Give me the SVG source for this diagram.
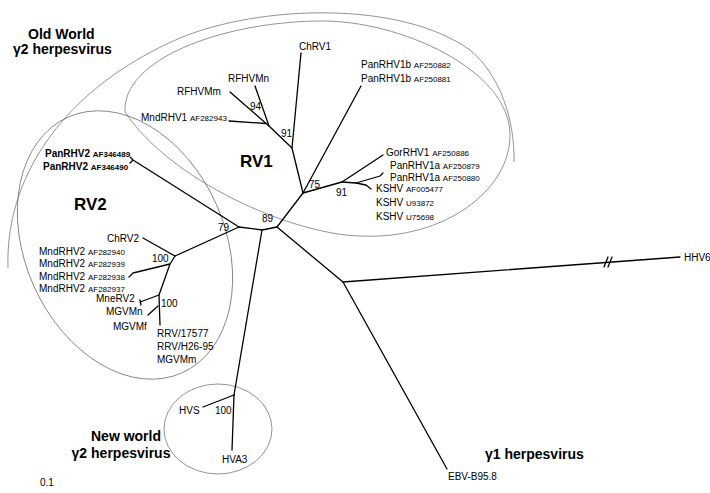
<svg xmlns="http://www.w3.org/2000/svg" width="710" height="493" viewBox="0 0 710 493">
<style>
.br{stroke:#000;stroke-width:1.3;fill:none;stroke-linecap:round;stroke-linejoin:round}
.el{stroke:#666;stroke-width:0.7;fill:none}
text{font-family:"Liberation Sans",Arial,sans-serif;font-size:10px;fill:#000}
.acc{font-size:8px}
.b{font-weight:bold}
.big{font-size:14px;font-weight:bold}
.rv{font-size:17px;font-weight:bold}
</style>
<rect width="710" height="493" fill="#fff"/>
<g id="groups">
<path id="oldworld-arc" class="el" d="M8,268 C5,180 60,90 180,38 C260,5 400,0 470,50 C500,75 515,120 514,162"/>
<path id="rv1-ellipse" class="el" d="M125,112 C122,60 220,22 320,21 C400,20 510,70 510,135 C510,190 445,240 360,236 C290,234 170,180 125,112 Z"/>
<ellipse id="rv2-ellipse" class="el" cx="125" cy="245" rx="140" ry="100" transform="rotate(66 125 245)"/>
<ellipse id="newworld-ellipse" class="el" cx="218" cy="429" rx="54" ry="45"/>
</g>
<g id="connectors">
<path class="br" d="M277,227 L303,193"/>
<path class="br" d="M277,227 L262,230 L239,227"/>
<path class="br" d="M262,230 L234,395"/>
<path class="br" d="M277,227 L343,282"/>
<path class="br" d="M343,282 L680,257"/>
<path class="br" d="M604,267 L608,257 M608,267 L612,257"/>
<path class="br" d="M343,282 L447,469"/>
<path class="br" d="M303,193 L292,148 L301,53"/>
<path class="br" d="M292,148 L269,126 L255,86"/>
<path class="br" d="M269,126 L230,92"/>
<path class="br" d="M266,123.5 L229,121"/>
<path class="br" d="M303,193 L361,86"/>
<path class="br" d="M303,193 L342,182"/>
<path class="br" d="M342,182 L383,155"/>
<path class="br" d="M342,182 L356,183 L380,176 L383,173"/>
<path class="br" d="M356,183 L366,185 L371,189"/>
<path class="br" d="M239,227 L133,160 M133,160 L130,157 M133,160 L130,163"/>
<path class="br" d="M239,227 L175,256 L143,238"/>
<path class="br" d="M175,256 L170,264 L133,273 L129,277"/>
<path class="br" d="M170,264 L159,295 L160,325"/>
<path class="br" d="M159,295 L140,302 M140,300 L141,305"/>
<path class="br" d="M158,306 L148,315"/>
<path class="br" d="M234,395 L203,407"/>
<path class="br" d="M234,395 L232,450"/>
</g>
<g id="label-oldworld"><text class="big" x="28" y="39">Old World</text><text class="big" x="13" y="54">γ2 herpesvirus</text></g>
<g id="label-rv1"><text class="rv" x="240" y="167">RV1</text></g>
<g id="label-rv2"><text class="rv" x="74" y="210">RV2</text></g>
<g id="label-newworld"><text class="big" x="126" y="441" text-anchor="middle">New world</text><text class="big" x="121" y="458" text-anchor="middle">γ2 herpesvirus</text></g>
<g id="label-g1"><text class="big" x="485" y="459">γ1 herpesvirus</text></g>
<g id="scale"><text x="40" y="486">0.1</text></g>
<g id="leaf-ChRV1"><text x="299" y="50">ChRV1</text></g>
<g id="leaf-PanRHV1b"><text x="361" y="68">PanRHV1b <tspan class="acc">AF250882</tspan></text><text x="361" y="82">PanRHV1b <tspan class="acc">AF250881</tspan></text></g>
<g id="leaf-RFHVMn"><text x="228" y="82">RFHVMn</text></g>
<g id="leaf-RFHVMm"><text x="177" y="95">RFHVMm</text></g>
<g id="leaf-MndRHV1"><text x="141" y="121">MndRHV1 <tspan class="acc">AF282943</tspan></text></g>
<g id="node-94"><text x="250" y="110">94</text></g>
<g id="node-91a"><text x="281" y="137">91</text></g>
<g id="node-75"><text x="309" y="188">75</text></g>
<g id="node-91b"><text x="336" y="196">91</text></g>
<g id="leaf-GorRHV1"><text x="386" y="156">GorRHV1 <tspan class="acc">AF250886</tspan></text></g>
<g id="leaf-PanRHV1a"><text x="390" y="169">PanRHV1a <tspan class="acc">AF250879</tspan></text><text x="390" y="181">PanRHV1a <tspan class="acc">AF250880</tspan></text></g>
<g id="leaf-KSHV"><text x="376" y="192">KSHV <tspan class="acc">AF005477</tspan></text><text x="376" y="206">KSHV <tspan class="acc">U93872</tspan></text><text x="376" y="220">KSHV <tspan class="acc">U75698</tspan></text></g>
<g id="node-89"><text x="262" y="222">89</text></g>
<g id="node-79"><text x="218" y="231">79</text></g>
<g id="leaf-PanRHV2"><text class="b" x="45" y="157">PanRHV2 <tspan class="acc">AF346489</tspan></text><text class="b" x="43" y="170">PanRHV2 <tspan class="acc">AF346490</tspan></text></g>
<g id="leaf-ChRV2"><text x="107" y="242">ChRV2</text></g>
<g id="node-100a"><text x="152" y="262">100</text></g>
<g id="leaf-MndRHV2"><text x="39" y="255">MndRHV2 <tspan class="acc">AF282940</tspan></text><text x="39" y="267">MndRHV2 <tspan class="acc">AF282939</tspan></text><text x="39" y="280">MndRHV2 <tspan class="acc">AF282938</tspan></text><text x="39" y="292">MndRHV2 <tspan class="acc">AF282937</tspan></text></g>
<g id="leaf-MneRV2"><text x="96" y="302">MneRV2</text></g>
<g id="node-100b"><text x="161" y="307">100</text></g>
<g id="leaf-MGVM"><text x="106" y="315">MGVMn</text><text x="113" y="330">MGVMf</text></g>
<g id="leaf-RRV"><text x="157" y="337">RRV/17577</text><text x="157" y="350">RRV/H26-95</text><text x="157" y="363">MGVMm</text></g>
<g id="leaf-HVS"><text x="179" y="414">HVS</text></g>
<g id="node-100c"><text x="215" y="414">100</text></g>
<g id="leaf-HVA3"><text x="222" y="463">HVA3</text></g>
<g id="leaf-HHV6"><text x="684" y="261">HHV6</text></g>
<g id="leaf-EBV"><text x="448" y="480">EBV-B95.8</text></g>
</svg>
